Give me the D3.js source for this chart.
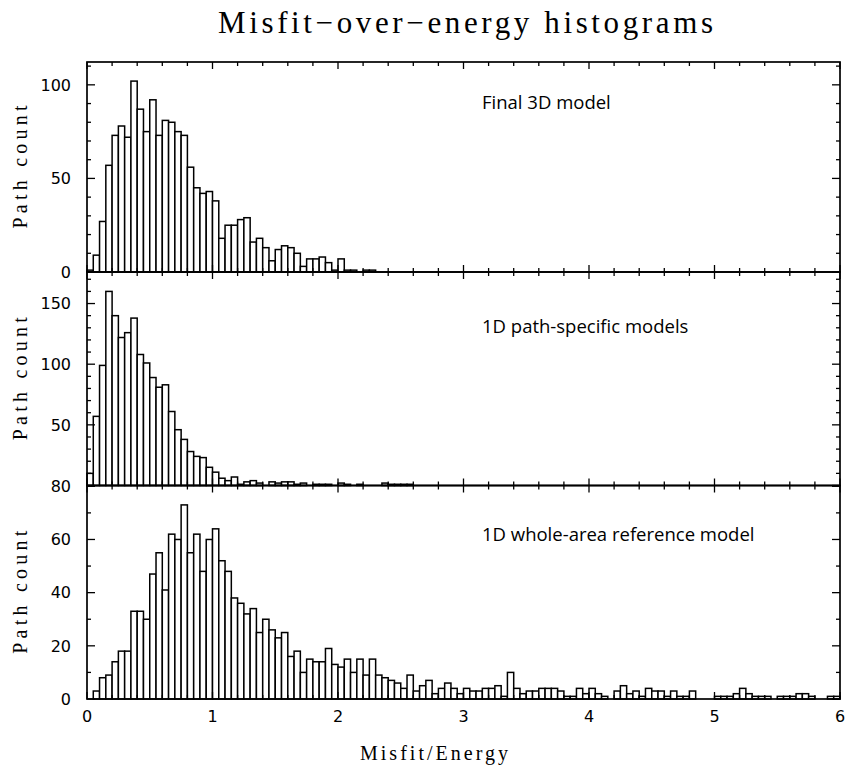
<!DOCTYPE html>
<html><head><meta charset="utf-8">
<script src="https://cdn.jsdelivr.net/npm/d3@7"></script>
<style>body{margin:0;background:#fff}</style>
</head><body>
<script>
const binWidth = 0.05;
const panelTitles = ["Final 3D model", "1D path-specific models", "1D whole-area reference model"];
const final3D = [1,9,27,57,73,78,72,102,87,75,92,73,81,80,75,73,56,45,42,43,38,18,25,25,28,29,16,18,13,6,12,
  14,13,10,3,7,7,8,5,1,7,1,1,0,1,1,
  0,0,0,0,0,0,0,0,0,0,0,0,0,0,0,0,0,0,0,0,0,0,0,0,0,0,0,0,0,0,0,0,0,0,0,0,0,0,0,0,0,0,0,0,0,0,0,0,0,0,
  0,0,0,0,0,0,0,0,0,0,0,0,0,0,0,0,0,0,0,0,0,0,0,0];
const pathSpecific = [10,57,99,160,140,122,126,138,108,101,89,81,83,61,46,38,28,24,23,15,11,6,4,7,1,3,4,2,0,3,2,
  3,3,1,2,0,1,1,1,0,2,1,0,1,0,0,0,2,1,1,1,1,
  0,0,0,0,0,0,0,0,0,0,0,0,0,0,0,0,0,0,0,0,0,0,0,0,0,0,0,0,0,0,0,0,0,0,0,0,0,0,0,0,0,0,0,0,0,0,0,0,0,0,
  0,0,0,0,0,0,0,0,0,0,0,0,0,0,0,0,0,0];
const wholeArea = [0,3,8,9,14,18,18,33,33,30,47,55,41,62,60,73,55,62,48,60,64,52,48,38,36,32,34,25,30,26,23,
  25,16,18,10,15,14,14,19,13,12,15,10,15,9,15,9,8,7,6,4,9,3,5,7,
  2,4,6,4,2,4,3,3,4,4,5,1,10,4,2,3,3,4,4,4,3,1,1,4,2,4,2,1,0,3,5,2,3,
  1,4,3,3,1,3,1,1,3,0,0,0,1,1,1,2,4,2,1,1,1,0,1,1,1,2,2,1,0,0,1,1];
const xTicks = [0,1,2,3,4,5,6];
const yTicks1 = [0,50,100];
const yTicks2 = [0,50,100,150];
const yTicks3 = [0,20,40,60,80];
// the "0" of the middle panel sits exactly under the "80" of the bottom panel
const yLabels2 = [50,100,150];
const yMinorStep = 10;

const W = 847, H = 768;
const svg = d3.select("body").append("svg").attr("width", W).attr("height", H);
const left = 87, right = 840;
const x = d3.scaleLinear().domain([0, 6]).range([left, right]);

const panels = [
  {data: final3D, ticks: yTicks1, labels: yTicks1, top: 62, bottom: 272, labelY: 108.5},
  {data: pathSpecific, ticks: yTicks2, labels: yLabels2, top: 272, bottom: 485.5, labelY: 332.5},
  {data: wholeArea, ticks: yTicks3, labels: yTicks3, top: 485.5, bottom: 699, labelY: 540.5}
];

const serif = "Liberation Serif, DejaVu Serif, serif";

svg.append("text").attr("x", 218).attr("y", 33)
  .attr("font-family", serif).attr("font-size", 31).attr("fill", "#000")
  .attr("textLength", 495).attr("lengthAdjust", "spacing")
  .text("Misfit\u2212over\u2212energy histograms");

panels.forEach((p, pi) => {
  const maxV = d3.max(p.data) * 1.1;
  const y = d3.scaleLinear().domain([0, maxV]).range([p.bottom, p.top]);
  const g = svg.append("g");
  g.selectAll("rect.bar").data(p.data).join("rect")
    .attr("x", (d, i) => x(i * binWidth))
    .attr("width", x(binWidth) - x(0))
    .attr("y", d => y(d))
    .attr("height", d => y(0) - y(d))
    .attr("fill", "#fff").attr("stroke", "#000").attr("stroke-width", 1.5);
  g.append("rect").attr("x", left).attr("y", p.top).attr("width", right - left).attr("height", p.bottom - p.top)
    .attr("fill", "none").attr("stroke", "#000").attr("stroke-width", 1.7);
  const xMinor = d3.range(0, 30.5).map(k => k * 0.2);
  xMinor.forEach(v => {
    const major = Math.abs(v - Math.round(v)) < 1e-6;
    const len = major ? 7 : 4;
    g.append("line").attr("x1", x(v)).attr("x2", x(v)).attr("y1", p.bottom).attr("y2", p.bottom - len)
      .attr("stroke", "#000").attr("stroke-width", 1.3);
    g.append("line").attr("x1", x(v)).attr("x2", x(v)).attr("y1", p.top).attr("y2", p.top + len)
      .attr("stroke", "#000").attr("stroke-width", 1.3);
  });
  const minor = d3.range(0, maxV, yMinorStep);
  minor.forEach(v => {
    const major = p.ticks.includes(v);
    const len = major ? 8 : 4;
    g.append("line").attr("x1", left).attr("x2", left + len).attr("y1", y(v)).attr("y2", y(v))
      .attr("stroke", "#000").attr("stroke-width", 1.3);
    g.append("line").attr("x1", right).attr("x2", right - len).attr("y1", y(v)).attr("y2", y(v))
      .attr("stroke", "#000").attr("stroke-width", 1.3);
  });
  g.selectAll("text.yl").data(p.labels).join("text")
    .attr("x", 71).attr("y", d => y(d)).attr("dy", "0.36em").attr("text-anchor", "end")
    .attr("font-family", "DejaVu Sans, sans-serif").attr("font-size", 16).attr("fill", "#000")
    .text(d => d);
  const cy = (p.top + p.bottom) / 2;
  g.append("text").attr("transform", `translate(27,${cy}) rotate(-90)`).attr("text-anchor", "middle")
    .attr("font-family", serif).attr("font-size", 20).attr("fill", "#000")
    .attr("textLength", 123).attr("lengthAdjust", "spacing")
    .text("Path count");
  g.append("text").attr("x", 482).attr("y", p.labelY)
    .attr("font-family", "Open Sans, sans-serif").attr("font-size", 18.5).attr("fill", "#000")
    .text(panelTitles[pi]);
});

svg.selectAll("text.xl").data(xTicks).join("text")
  .attr("x", d => x(d)).attr("y", 722).attr("text-anchor", "middle")
  .attr("font-family", "DejaVu Sans, sans-serif").attr("font-size", 16).attr("fill", "#000")
  .text(d => d);
svg.append("text").attr("x", 360).attr("y", 760)
  .attr("font-family", serif).attr("font-size", 20).attr("fill", "#000")
  .attr("textLength", 148).attr("lengthAdjust", "spacing")
  .text("Misfit/Energy");
</script>
</body></html>
